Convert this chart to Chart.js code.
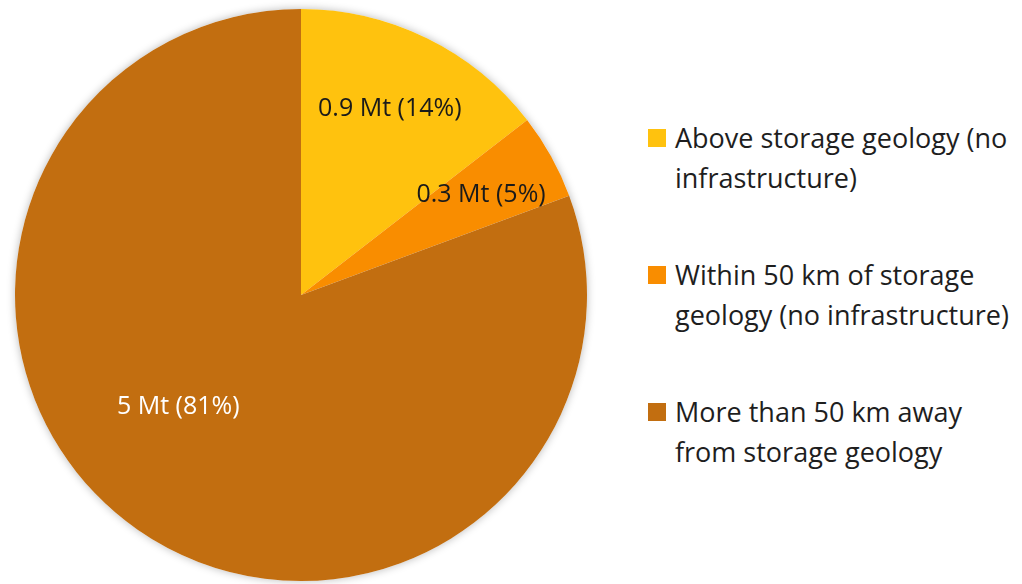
<!DOCTYPE html>
<html>
<head>
<meta charset="utf-8">
<script src="https://cdn.jsdelivr.net/npm/chart.js@4"></script>
<style>
  html,body{margin:0;padding:0;background:#fff;width:1022px;height:584px;overflow:hidden;}
  #wrap{position:absolute;left:0;top:0;width:602px;height:584px;}
  #legend{position:absolute;left:648px;top:118px;width:374px;font-family:"Open Sans",sans-serif;font-size:27px;color:#1e1e1e;}
  .item{position:relative;padding-left:27px;line-height:40px;margin-bottom:57px;white-space:nowrap;}
  .sw{position:absolute;left:0;top:11px;width:18px;height:18px;}
</style>
</head>
<body>
<div id="wrap"><canvas id="c"></canvas></div>
<div id="legend"></div>
<script>
const categories = [
  ["Above storage geology (no", "infrastructure)"],
  ["Within 50 km of storage", "geology (no infrastructure)"],
  ["More than 50 km away", "from storage geology"]
];
const values = [0.9, 0.3, 5];
const valueLabels = ["0.9 Mt (14%)", "0.3 Mt (5%)", "5 Mt (81%)"];

const colors = ["#FFC20E", "#F98D00", "#C26E10"];
const labelColors = ["#1a1a1a", "#1a1a1a", "#ffffff"];
// label placement: radial fraction and angle offset (radians) from slice mid-angle
const labelPlace = [[0.72, -0.01], [0.72, 0], [0.58, 0.225]];

const shadowPlugin = {
  id: 'shadow',
  beforeDatasetsDraw(chart) {
    const arc = chart.getDatasetMeta(0).data[0];
    if (!arc) return;
    const ctx = chart.ctx;
    ctx.save();
    ctx.shadowColor = 'rgba(0,0,0,0.28)';
    ctx.shadowBlur = 9;
    ctx.fillStyle = '#fff';
    ctx.beginPath();
    ctx.arc(arc.x, arc.y, arc.outerRadius, 0, Math.PI * 2);
    ctx.fill();
    ctx.restore();
  }
};

const labelPlugin = {
  id: 'sliceLabels',
  afterDatasetsDraw(chart) {
    const ctx = chart.ctx;
    const meta = chart.getDatasetMeta(0);
    ctx.save();
    ctx.font = '25px "Open Sans", sans-serif';
    ctx.textAlign = 'center';
    ctx.textBaseline = 'middle';
    meta.data.forEach((arc, i) => {
      const mid = (arc.startAngle + arc.endAngle) / 2 + labelPlace[i][1];
      const r = arc.outerRadius * labelPlace[i][0];
      ctx.fillStyle = labelColors[i];
      ctx.fillText(valueLabels[i], arc.x + Math.cos(mid) * r, arc.y + Math.sin(mid) * r);
    });
    ctx.restore();
  }
};

const chart = new Chart(document.getElementById('c'), {
  type: 'pie',
  data: {
    labels: categories.map(c => c.join(' ')),
    datasets: [{
      data: values,
      backgroundColor: colors,
      borderWidth: 0
    }]
  },
  options: {
    responsive: true,
    maintainAspectRatio: false,
    animation: false,
    layout: {padding: {top: 9, bottom: 3, left: 15, right: 15}},
    plugins: {
      legend: {display: false},
      tooltip: {enabled: false}
    }
  },
  plugins: [shadowPlugin, labelPlugin]
});

const legend = document.getElementById('legend');
chart.options.plugins.legend.labels.generateLabels(chart).forEach((it, i) => {
  const d = document.createElement('div');
  d.className = 'item';
  const sw = document.createElement('span');
  sw.className = 'sw';
  sw.style.background = it.fillStyle;
  d.appendChild(sw);
  categories[i].forEach((line, j) => {
    if (j) d.appendChild(document.createElement('br'));
    d.appendChild(document.createTextNode(line));
  });
  legend.appendChild(d);
});
</script>
</body>
</html>
